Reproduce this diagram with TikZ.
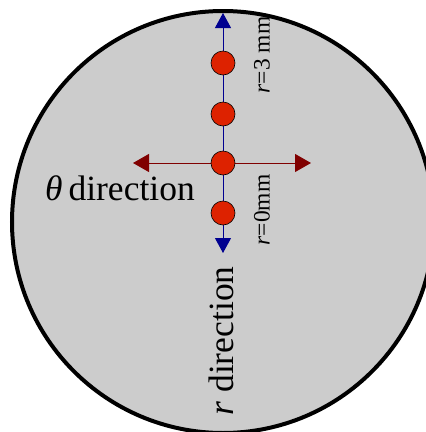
\documentclass[tikz,border=0pt]{standalone}
\usepackage{fontspec}
\setmainfont{Liberation Serif}
\usetikzlibrary{arrows.meta}
\definecolor{diskgray}{HTML}{CCCCCC}
\definecolor{dotred}{HTML}{DD2200}
\definecolor{axisblue}{HTML}{000090}
\definecolor{axisred}{HTML}{800000}

\begin{document}
\begin{tikzpicture}[x=1pt, y=-1pt,
  dot/.style={circle, draw, fill=dotred, inner sep=0pt, minimum size=24pt, line width=0.6pt},
  raxis/.style={draw=axisblue, line width=1pt, {Triangle[length=15pt,width=16pt,fill=axisblue]}-{Triangle[length=15pt,width=16pt,fill=axisblue]}},
  taxis/.style={draw=axisred, line width=1pt, {Triangle[length=16pt,width=18pt,fill=axisred]}-{Triangle[length=16pt,width=18pt,fill=axisred]}},
  lbl/.style={font=\fontsize{35.5}{40}\selectfont, inner sep=0pt},
  tag/.style={font=\fontsize{23.5}{27}\selectfont, inner sep=0pt, rotate=90}
]
\useasboundingbox (0,0) rectangle (426,432);
\clip (0,0) rectangle (426,432);
% disk
\draw[fill=diskgray, line width=4pt] (223,222) circle[radius=211];
% axes
\coordinate (rtop) at (223,13);
\coordinate (rbot) at (223,253);
\coordinate (tleft) at (133,163);
\coordinate (tright) at (311,163);
\draw[raxis] (rbot) -- (rtop);
\draw[taxis] (tleft) -- (tright);
% measuring points
\node[dot] (p3) at (223,63) {};
\node[dot] (p2) at (223,114) {};
\node[dot] (p1) at (223,163) {};
\node[dot] (p0) at (223,213) {};
% labels
\node[tag] (top) at (262,55) {\textit{r}=3 mm};
\node[tag] (zero) at (262,210) {\textit{r}=0mm};
\node[lbl, anchor=west] (theta) at (45,188) {\textit{θ}\,direction};
\node[lbl, rotate=90] (rdir) at (221,341) {\textit{r} direction};
\end{tikzpicture}
\end{document}
